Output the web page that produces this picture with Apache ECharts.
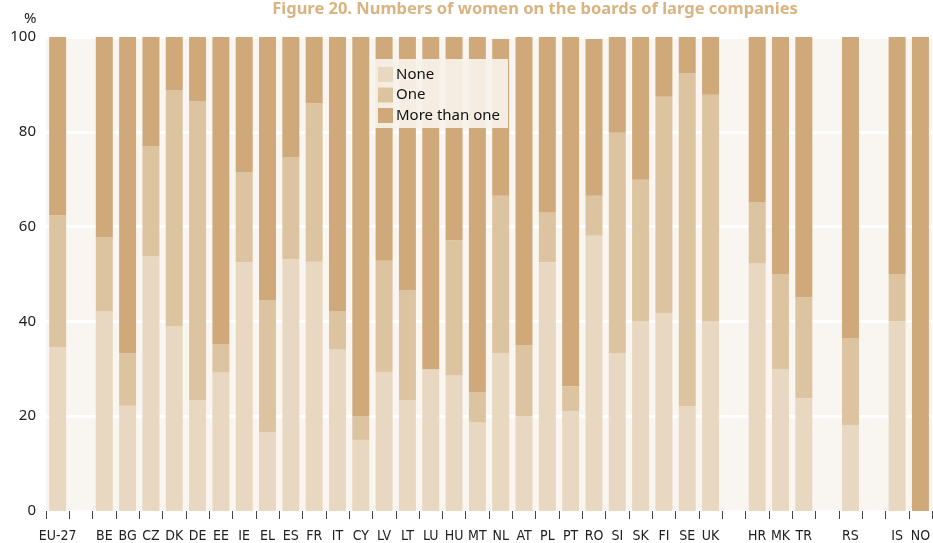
<!DOCTYPE html>
<html>
<head>
<meta charset="utf-8">
<script src="https://cdn.jsdelivr.net/npm/echarts@6/dist/echarts.min.js"></script>
<style>
  html, body { margin: 0; padding: 0; background: #fff; }
  #chart { width: 933px; height: 543px; }
</style>
</head>
<body>
<div id="chart"></div>
<script>
// categories (empty strings are the gaps between groups)
const countries = ['EU-27', '', 'BE', 'BG', 'CZ', 'DK', 'DE', 'EE', 'IE', 'EL', 'ES', 'FR', 'IT', 'CY', 'LV', 'LT', 'LU', 'HU', 'MT', 'NL', 'AT', 'PL', 'PT', 'RO', 'SI', 'SK', 'FI', 'SE', 'UK', '', 'HR', 'MK', 'TR', '', 'RS', '', 'IS', 'NO'];
// share of companies (%)
const noneVals = [34.5, '-', 42.1, 22.2, 53.7, 38.9, 23.4, 29.3, 52.5, 16.6, 53.1, 52.6, 34.1, 15.0, 29.3, 23.4, 29.9, 28.6, 18.7, 33.3, 20.0, 52.5, 21.1, 58.1, 33.3, 40.0, 41.7, 22.1, 40.0, '-', 52.2, 29.9, 23.8, '-', 18.1, '-', 40.0, 0];
const oneVals = [27.9, '-', 15.6, 11.1, 23.2, 49.9, 63.1, 5.9, 18.9, 27.8, 21.6, 33.4, 8.0, 5.0, 23.5, 23.1, 0, 28.5, 6.4, 33.2, 15.0, 10.5, 5.2, 8.4, 46.5, 29.9, 45.7, 70.3, 47.8, '-', 12.9, 20.0, 21.3, '-', 18.3, '-', 10.0, 0];
const moreVals = [37.6, '-', 42.3, 66.7, 23.1, 11.2, 13.5, 64.8, 28.6, 55.6, 25.3, 14.0, 57.9, 80.0, 47.2, 53.5, 70.1, 42.9, 74.9, 33.1, 65.0, 37.0, 73.7, 33.1, 20.2, 30.1, 12.6, 7.6, 12.2, '-', 34.9, 50.1, 54.9, '-', 63.6, '-', 50.0, 100];
const yTicks = [0, 20, 40, 60, 80, 100];

const chart = echarts.init(document.getElementById('chart'));

const colors = ['#e8d8c2', '#ddc4a1', '#d0a97a'];
const labelFont = '"Liberation Sans Narrow", "DejaVu Sans Condensed", sans-serif';

function bar(name, data) {
  return {
    name: name,
    type: 'bar',
    stack: 'total',
    barWidth: 17,
    data: data
  };
}

chart.setOption({
  animation: false,
  color: colors,
  title: {
    text: 'Figure 20. Numbers of women on the boards of large companies',
    left: 530,
    textAlign: 'center',
    top: -4,
    textStyle: {
      color: '#d9b380',
      fontSize: 16.5,
      fontWeight: 'bold',
      fontFamily: '"Noto Sans", sans-serif'
    }
  },
  graphic: [{
    type: 'text',
    left: 24,
    top: 11,
    style: { text: '%', fontSize: 15, fill: '#222', fontFamily: '"Noto Sans", sans-serif' }
  }],
  legend: {
    orient: 'vertical',
    left: 372,
    top: 59,
    itemWidth: 15,
    itemHeight: 15,
    itemGap: 5.5,
    padding: [8, 8, 5, 6],
    backgroundColor: 'rgba(247, 242, 234, 0.93)',
    icon: 'rect',
    textStyle: { fontSize: 15, color: '#111', fontFamily: '"Noto Sans", sans-serif', padding: [0, 0, 0, -2] },
    data: ['None', 'One', 'More than one']
  },
  grid: {
    left: 46,
    right: -6,
    top: 37,
    bottom: 31,
    show: true,
    backgroundColor: '#f9f6f1',
    borderWidth: 0
  },
  xAxis: {
    type: 'category',
    data: countries,
    axisLine: { show: false },
    axisTick: { show: true, interval: 0, length: 8, lineStyle: { color: '#444', width: 1 } },
    axisLabel: { interval: 0, margin: 18, fontSize: 14, color: '#222', fontFamily: labelFont }
  },
  yAxis: {
    type: 'value',
    min: yTicks[0],
    max: yTicks[yTicks.length - 1],
    interval: 20,
    axisLine: { show: false },
    axisTick: { show: false },
    axisLabel: { fontSize: 15, color: '#222', margin: 10, fontFamily: '"Noto Sans", sans-serif' },
    splitLine: { lineStyle: { color: '#ffffff', width: 3 } }
  },
  series: [
    bar('None', noneVals),
    bar('One', oneVals),
    bar('More than one', moreVals)
  ]
});
</script>
</body>
</html>
